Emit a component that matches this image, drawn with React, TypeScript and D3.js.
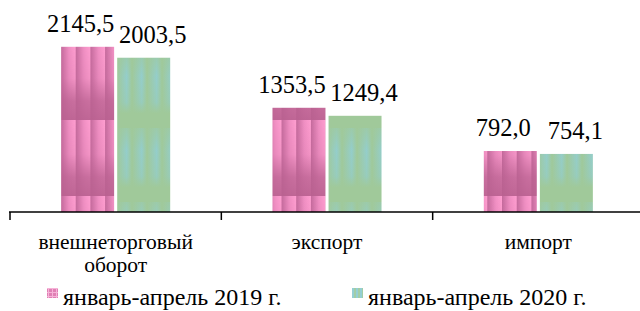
import * as d3 from "d3";

const categories = ["внешнеторговый оборот", "экспорт", "импорт"];
const seriesNames = ["январь-апрель 2019 г.", "январь-апрель 2020 г."];
const values2019 = [2145.5, 1353.5, 792.0];
const values2020 = [2003.5, 1249.4, 754.1];
const labelLines: Record<string, string[]> = {
  "внешнеторговый оборот": ["внешнеторговый", "оборот"],
};

const W = 640;
const H = 311;
const FONT = "Liberation Serif";
const baseY = 212;

export default function App() {
  const x0 = d3.scaleBand<string>().domain(categories).range([10, 644]);
  const groupW = x0.bandwidth() * 0.516;
  const x1 = d3.scaleBand<string>().domain(seriesNames).range([0, groupW]).paddingInner(0.055);
  const y = d3.scaleLinear().domain([0, 2500]).range([baseY, baseY - 0.077 * 2500]);
  const fmt = (v: number) => v.toFixed(1).replace(".", ",");

  const series = [
    { name: seriesNames[0], values: values2019, fill: "url(#pinkPat)", dx: -7 },
    { name: seriesNames[1], values: values2020, fill: "url(#greenPat)", dx: 9 },
  ];
  const legX = [47, 352];
  const legFills = ["url(#legPink)", "url(#legGreen)"];

  return (
    <svg width={W} height={H} style={{ position: "absolute", left: 0, top: 0, background: "#fff" }}>
      <defs>
        <linearGradient id="pinkH" x1="0" x2="1" y1="0" y2="0">
          <stop offset="0" stopColor="#c46a9c" />
          <stop offset="0.55" stopColor="#f08fc3" />
          <stop offset="1" stopColor="#ff9ed0" />
        </linearGradient>
        <linearGradient id="pinkV" x1="0" x2="0" y1="0" y2="1">
          <stop offset="0" stopColor="#b8608f" stopOpacity={0} />
          <stop offset="0.45" stopColor="#b8608f" stopOpacity={0.15} />
          <stop offset="0.75" stopColor="#b8608f" stopOpacity={0.75} />
          <stop offset="1" stopColor="#b8608f" stopOpacity={0.9} />
        </linearGradient>
        <pattern id="pinkPat" patternUnits="userSpaceOnUse" width={14.7} height={76} x={61} y={44}>
          <rect width={14.7} height={76} fill="url(#pinkH)" />
          <rect width={14.7} height={76} fill="url(#pinkV)" />
        </pattern>
        <linearGradient id="greenH" x1="0" x2="1" y1="0" y2="0">
          <stop offset="0" stopColor="#a0c99a" />
          <stop offset="0.65" stopColor="#90cfdc" />
          <stop offset="1" stopColor="#a0c99a" />
        </linearGradient>
        <linearGradient id="greenV" x1="0" x2="0" y1="0" y2="1">
          <stop offset="0" stopColor="#a0c99a" stopOpacity={0.75} />
          <stop offset="0.3" stopColor="#a0c99a" stopOpacity={0.25} />
          <stop offset="0.65" stopColor="#a0c99a" stopOpacity={0.45} />
          <stop offset="0.8" stopColor="#a0c99a" stopOpacity={1} />
          <stop offset="1" stopColor="#a0c99a" stopOpacity={1} />
        </linearGradient>
        <pattern id="greenPat" patternUnits="userSpaceOnUse" width={15} height={74} x={117} y={54}>
          <rect width={15} height={74} fill="url(#greenH)" />
          <rect width={15} height={74} fill="url(#greenV)" />
        </pattern>
        <pattern id="legPink" patternUnits="userSpaceOnUse" width={4} height={4}>
          <rect width={4} height={4} fill="#e080b4" />
          <rect width={1} height={4} fill="#f6b3d8" />
          <rect width={4} height={1} fill="#f6b3d8" />
        </pattern>
        <pattern id="legGreen" patternUnits="userSpaceOnUse" width={4} height={4}>
          <rect width={4} height={4} fill="#a2cda6" />
          <rect width={2} height={4} fill="#94cfd3" />
        </pattern>
      </defs>

      {series.map((s) => (
        <g key={s.name}>
          {categories.map((c, i) => {
            const left = x0(c)! + (x0.bandwidth() - groupW) / 2 + x1(s.name)!;
            return (
              <g key={c}>
                <rect x={left} y={y(s.values[i])} width={x1.bandwidth()} height={baseY - y(s.values[i])} fill={s.fill} />
                <text
                  x={left + x1.bandwidth() / 2 + s.dx}
                  y={y(s.values[i]) - 15}
                  textAnchor="middle"
                  fontSize={24.5}
                  style={{ fontFamily: FONT }}
                  fill="#000"
                >
                  {fmt(s.values[i])}
                </text>
              </g>
            );
          })}
        </g>
      ))}

      <g stroke="#000" strokeWidth={1.5}>
        <line x1={9} x2={W} y1={baseY} y2={baseY} />
        {categories.map((c) => (
          <line key={c} x1={x0(c)!} x2={x0(c)!} y1={baseY} y2={baseY + 8} />
        ))}
      </g>

      {categories.map((c) => {
        const lines = labelLines[c] ?? [c];
        return (
          <text key={c} textAnchor="middle" fontSize={21.5} style={{ fontFamily: FONT }} fill="#000">
            {lines.map((ln, j) => (
              <tspan key={ln} x={x0(c)! + x0.bandwidth() / 2} y={249 + j * 23}>
                {ln}
              </tspan>
            ))}
          </text>
        );
      })}

      {seriesNames.map((n, i) => (
        <g key={n}>
          <rect x={legX[i]} y={288} width={11} height={10} fill={legFills[i]} />
          <text x={legX[i] + 16} y={305} fontSize={24} style={{ fontFamily: FONT }} fill="#000">
            {n}
          </text>
        </g>
      ))}
    </svg>
  );
}
